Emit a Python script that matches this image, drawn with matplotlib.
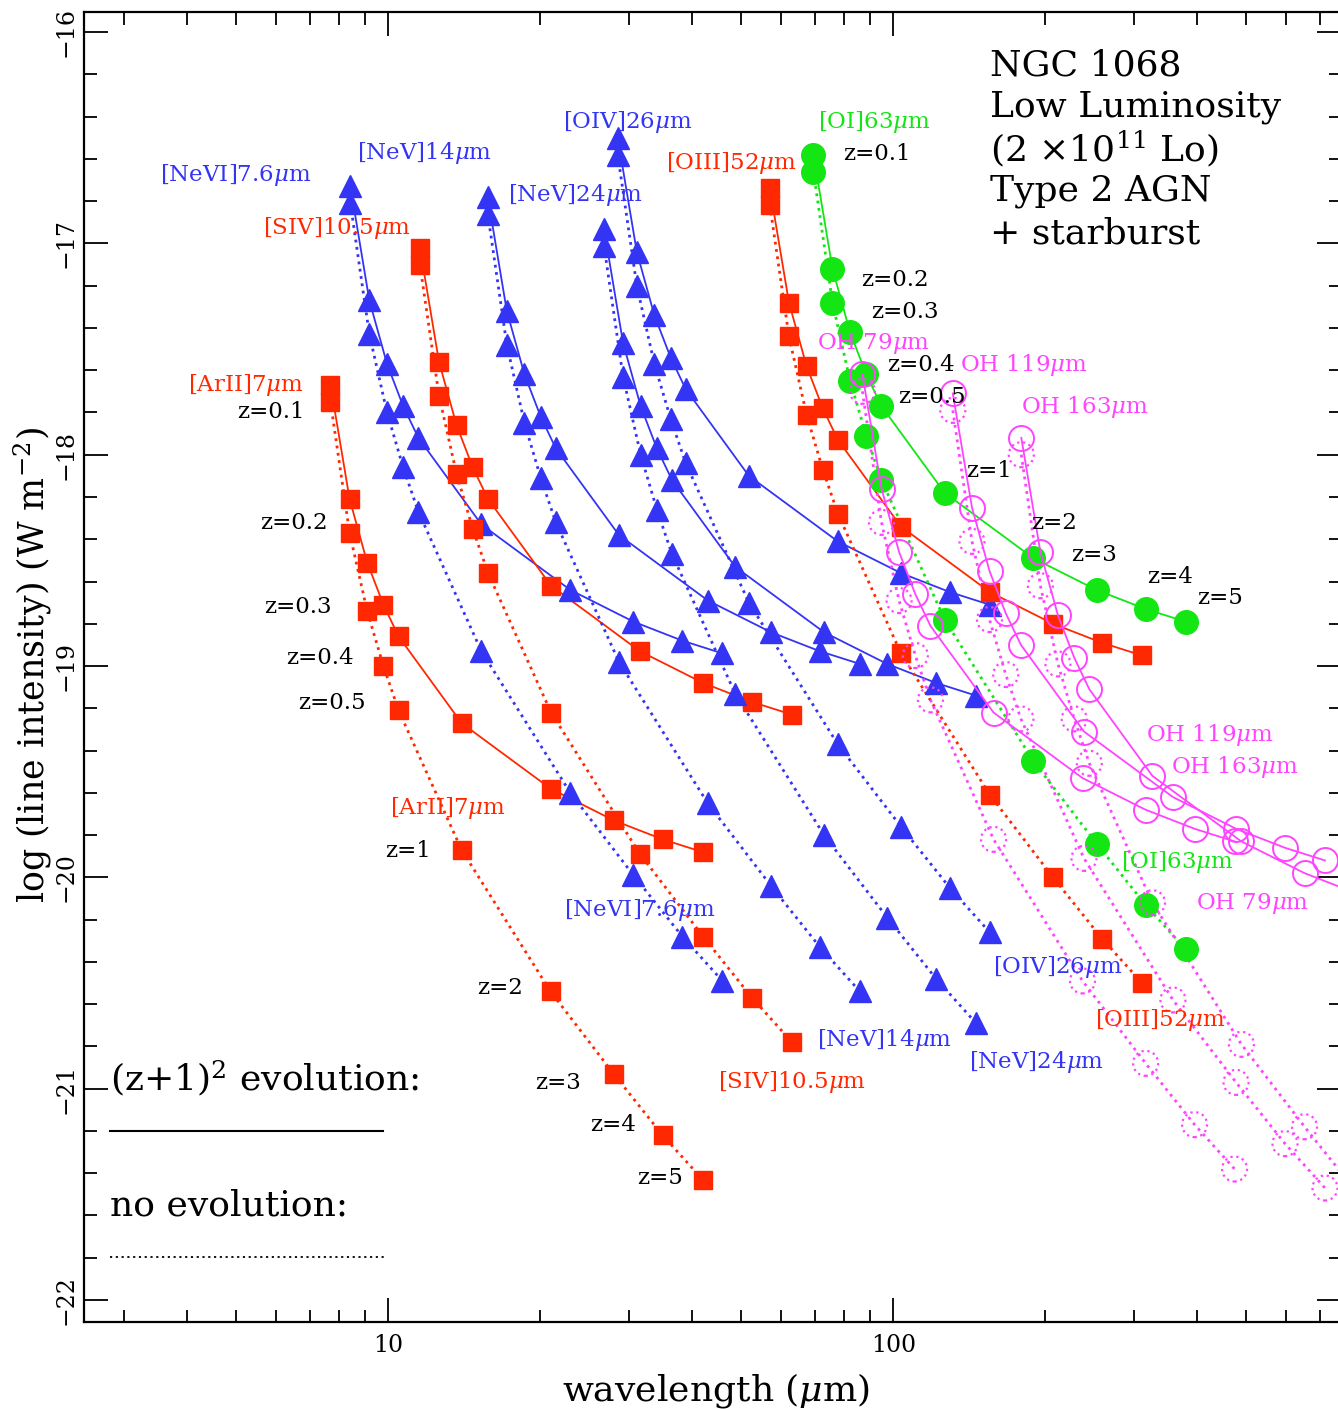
import matplotlib
matplotlib.use('Agg')
import matplotlib.pyplot as plt
from matplotlib.lines import Line2D
from matplotlib.ticker import FixedLocator, FixedFormatter, NullFormatter

W, H = 1338, 1409
plt.rcParams['font.family'] = ['DejaVu Serif']
plt.rcParams['mathtext.fontset'] = 'dejavuserif'

# ---------------- data ----------------
REDSHIFTS = [0.1, 0.2, 0.3, 0.4, 0.5, 1, 2, 3, 4, 5]

# observed wavelengths (micron) at the redshifts above
ARII_WL  = [7.69, 8.39, 9.09, 9.79, 10.49, 13.98, 20.97, 27.96, 34.95, 41.94]
NEVI_WL  = [8.42, 9.18, 9.95, 10.71, 11.48, 15.30, 22.95, 30.60, 38.25, 45.90]
SIV_WL   = [11.56, 12.61, 13.66, 14.71, 15.77, 21.02, 31.53, 42.04, 52.55, 63.06]
NEV14_WL = [15.75, 17.18, 18.62, 20.05, 21.48, 28.64, 42.96, 57.28, 71.60, 85.92]
NEV24_WL = [26.75, 29.18, 31.62, 34.05, 36.48, 48.64, 72.96, 97.28, 121.6, 145.9]
OIV_WL   = [28.48, 31.07, 33.66, 36.25, 38.84, 51.78, 77.67, 103.6, 129.5, 155.3]
OIII_WL  = [56.99, 62.17, 67.35, 72.53, 77.72, 103.6, 155.4, 207.2, 259.1, 310.9]
OI_WL    = [69.50, 75.82, 82.13, 88.45, 94.77, 126.4, 189.5, 252.7, 315.9, 379.1]
OH79_WL  = [86.9, 94.8, 102.7, 110.6, 118.5, 158.0, 237.0, 316.0, 395.0, 474.0]
OH119_WL = [131.2, 143.2, 155.1, 167.0, 179.0, 238.6, 357.9, 477.2, 596.5, 715.8]
OH163_WL = [179.3, 195.6, 211.9, 228.2, 244.5, 326.0, 489.0, 652.0, 815.0, 978.0]

# log line intensity (W m^-2), no evolution (dotted)
ARII_NOEV  = [-17.75, -18.37, -18.74, -19.00, -19.21, -19.87, -20.54, -20.93, -21.22, -21.43]
NEVI_NOEV  = [-16.81, -17.43, -17.80, -18.06, -18.27, -18.93, -19.60, -19.99, -20.28, -20.49]
SIV_NOEV   = [-17.10, -17.72, -18.09, -18.35, -18.56, -19.22, -19.89, -20.28, -20.57, -20.78]
NEV14_NOEV = [-16.86, -17.48, -17.85, -18.11, -18.32, -18.98, -19.65, -20.04, -20.33, -20.54]
NEV24_NOEV = [-17.01, -17.63, -18.00, -18.26, -18.47, -19.13, -19.80, -20.19, -20.48, -20.69]
OIV_NOEV   = [-16.58, -17.20, -17.57, -17.83, -18.04, -18.70, -19.37, -19.76, -20.05, -20.26]
OIII_NOEV  = [-16.82, -17.44, -17.81, -18.07, -18.28, -18.94, -19.61, -20.00, -20.29, -20.50]
OI_NOEV    = [-16.66, -17.28, -17.65, -17.91, -18.12, -18.78, -19.45, -19.84, -20.13, -20.34]
OH79_NOEV  = [-17.70, -18.32, -18.69, -18.95, -19.16, -19.82, -20.49, -20.88, -21.17, -21.38]
OH119_NOEV = [-17.79, -18.41, -18.78, -19.04, -19.25, -19.91, -20.58, -20.97, -21.26, -21.47]
OH163_NOEV = [-18.00, -18.62, -18.99, -19.25, -19.46, -20.12, -20.79, -21.18, -21.47, -21.68]

# log line intensity (W m^-2), (z+1)^2 evolution (solid)
ARII_EV  = [-17.67, -18.21, -18.51, -18.71, -18.86, -19.27, -19.58, -19.73, -19.82, -19.88]
NEVI_EV  = [-16.73, -17.27, -17.57, -17.77, -17.92, -18.33, -18.64, -18.79, -18.88, -18.94]
SIV_EV   = [-17.02, -17.56, -17.86, -18.06, -18.21, -18.62, -18.93, -19.08, -19.17, -19.23]
NEV14_EV = [-16.78, -17.32, -17.62, -17.82, -17.97, -18.38, -18.69, -18.84, -18.93, -18.99]
NEV24_EV = [-16.93, -17.47, -17.77, -17.97, -18.12, -18.53, -18.84, -18.99, -19.08, -19.14]
OIV_EV   = [-16.50, -17.04, -17.34, -17.54, -17.69, -18.10, -18.41, -18.56, -18.65, -18.71]
OIII_EV  = [-16.74, -17.28, -17.58, -17.78, -17.93, -18.34, -18.65, -18.80, -18.89, -18.95]
OI_EV    = [-16.58, -17.12, -17.42, -17.62, -17.77, -18.18, -18.49, -18.64, -18.73, -18.79]
OH79_EV  = [-17.62, -18.16, -18.46, -18.66, -18.81, -19.22, -19.53, -19.68, -19.77, -19.83]
OH119_EV = [-17.71, -18.25, -18.55, -18.75, -18.90, -19.31, -19.62, -19.77, -19.86, -19.92]
OH163_EV = [-17.92, -18.46, -18.76, -18.96, -19.11, -19.52, -19.83, -19.98, -20.07, -20.13]

X_MAJOR = [10, 100]
X_MAJOR_LABELS = ['10', '100']
Y_MAJOR = [-16, -17, -18, -19, -20, -21, -22]
Y_MAJOR_LABELS = ['\u221216', '\u221217', '\u221218', '\u221219', '\u221220', '\u221221', '\u221222']

# ---------------- styles ----------------
RED = '#ff2800'
BLUE = '#3434f4'
GREEN = '#14e614'
MAG = '#ff44ff'

sq = dict(color=RED, marker='s', ms=13)
tri = dict(color=BLUE, marker='^', ms=15.5)
dot_g = dict(color=GREEN, marker='o', ms=17)

filled_lines = [
    (ARII_WL, ARII_NOEV, ARII_EV, sq),
    (NEVI_WL, NEVI_NOEV, NEVI_EV, tri),
    (SIV_WL, SIV_NOEV, SIV_EV, sq),
    (NEV14_WL, NEV14_NOEV, NEV14_EV, tri),
    (NEV24_WL, NEV24_NOEV, NEV24_EV, tri),
    (OIV_WL, OIV_NOEV, OIV_EV, tri),
    (OIII_WL, OIII_NOEV, OIII_EV, sq),
    (OI_WL, OI_NOEV, OI_EV, dot_g),
]
open_lines = [
    (OH79_WL, OH79_NOEV, OH79_EV),
    (OH119_WL, OH119_NOEV, OH119_EV),
    (OH163_WL, OH163_NOEV, OH163_EV),
]

fig = plt.figure(figsize=(W / 100, H / 100), dpi=100)
ax = fig.add_axes([84 / W, 1 - 1322 / H, (1341 - 84) / W, (1322 - 12) / H])
ax.set_xscale('log')
ax.set_xlim(2.5, 770)
ax.set_ylim(-22.104, -15.905)

for wl, noev, ev, st in filled_lines:
    ax.plot(wl, noev, linestyle=':', lw=2.0, color=st['color'], zorder=2)
    ax.plot(wl, ev, linestyle='-', lw=1.3, color=st['color'], zorder=2)
    ax.plot(wl, noev, linestyle='none', marker=st['marker'], ms=st['ms'],
            color=st['color'], mec=st['color'], zorder=3)
    ax.plot(wl, ev, linestyle='none', marker=st['marker'], ms=st['ms'],
            color=st['color'], mec=st['color'], zorder=3)

for wl, noev, ev in open_lines:
    ax.plot(wl, noev, linestyle=':', lw=2.0, color=MAG, zorder=2)
    ax.scatter(wl, noev, s=18 ** 2, facecolors='none', edgecolors=MAG,
               linewidths=1.6, linestyles=':', zorder=3)
    ax.plot(wl, ev, linestyle='-', lw=1.3, color=MAG, marker='o', ms=18,
            mfc='none', mec=MAG, mew=1.4, zorder=3)

# ---------------- axes & ticks ----------------
ax.xaxis.set_major_locator(FixedLocator(X_MAJOR))
ax.xaxis.set_major_formatter(FixedFormatter(X_MAJOR_LABELS))
ax.xaxis.set_minor_locator(FixedLocator([3, 4, 5, 6, 7, 8, 9, 20, 30, 40, 50, 60, 70,
                                         80, 90, 200, 300, 400, 500, 600, 700]))
ax.xaxis.set_minor_formatter(NullFormatter())
ax.yaxis.set_major_locator(FixedLocator(Y_MAJOR))
ax.yaxis.set_major_formatter(FixedFormatter(Y_MAJOR_LABELS))
ax.yaxis.set_minor_locator(FixedLocator([-22 + 0.2 * i for i in range(31)]))
ax.tick_params(which='both', direction='in', top=True, right=True, width=1.3,
               labelsize=17, colors='black')
ax.tick_params(which='major', length=17)
ax.tick_params(which='minor', length=9)
ax.tick_params(axis='x', pad=9)
ax.tick_params(axis='y', pad=5)
for lab in ax.get_yticklabels():
    lab.set_rotation(90)
    lab.set_va('center')
for sp in ax.spines.values():
    sp.set_linewidth(1.6)


def ptext(px, py, s, **kw):
    kw.setdefault('ha', 'center')
    kw.setdefault('va', 'center')
    fig.text(px / W, 1 - py / H, s, **kw)


LFS = 16.5
um = r'$\mu$m'
# colored line labels
for px, py, s, c in [
    (236, 175, '[NeVI]7.6' + um, BLUE), (425, 153, '[NeV]14' + um, BLUE),
    (628, 122, '[OIV]26' + um, BLUE), (576, 195, '[NeV]24' + um, BLUE),
    (337, 228, '[SIV]10.5' + um, RED), (731, 163, '[OIII]52' + um, RED),
    (246, 385, '[ArII]7' + um, RED), (874, 122, '[OI]63' + um, GREEN),
    (874, 343, 'OH 79' + um, MAG), (1024, 365, 'OH 119' + um, MAG),
    (1085, 407, 'OH 163' + um, MAG),
    (448, 808, '[ArII]7' + um, RED), (640, 910, '[NeVI]7.6' + um, BLUE),
    (1058, 967, '[OIV]26' + um, BLUE), (885, 1040, '[NeV]14' + um, BLUE),
    (1037, 1062, '[NeV]24' + um, BLUE), (792, 1082, '[SIV]10.5' + um, RED),
    (1160, 1020, '[OIII]52' + um, RED), (1177, 862, '[OI]63' + um, GREEN),
    (1210, 735, 'OH 119' + um, MAG), (1235, 767, 'OH 163' + um, MAG),
    (1253, 903, 'OH 79' + um, MAG),
]:
    ptext(px, py, s, color=c, fontsize=LFS)

# redshift labels
for px, py, s in [
    (271, 412, 'z=0.1'), (294, 523, 'z=0.2'), (298, 607, 'z=0.3'),
    (320, 658, 'z=0.4'), (332, 703, 'z=0.5'), (408, 851, 'z=1'),
    (500, 988, 'z=2'), (558, 1083, 'z=3'), (613, 1125, 'z=4'), (660, 1178, 'z=5'),
    (877, 154, 'z=0.1'), (895, 280, 'z=0.2'), (905, 312, 'z=0.3'),
    (921, 365, 'z=0.4'), (932, 397, 'z=0.5'), (989, 471, 'z=1'),
    (1054, 523, 'z=2'), (1094, 555, 'z=3'), (1170, 577, 'z=4'), (1220, 598, 'z=5'),
]:
    ptext(px, py, s, color='black', fontsize=LFS)

# info block
BFS = 26
for py, s in [(65, 'NGC 1068'), (107, 'Low Luminosity'),
              (149, r'(2 $\times$10$^{11}$ Lo)'), (191, 'Type 2 AGN'),
              (233, '+ starburst')]:
    ptext(990, py, s, ha='left', fontsize=BFS)

# line-style key
ptext(110, 1078, r'(z+1)$^2$ evolution:', ha='left', fontsize=BFS)
ptext(110, 1205, 'no evolution:', ha='left', fontsize=BFS)
fig.add_artist(Line2D([110 / W, 383 / W], [1 - 1131 / H] * 2, color='black', lw=1.5))
fig.add_artist(Line2D([110 / W, 385 / W], [1 - 1257 / H] * 2, color='black', lw=1.3,
                      linestyle=(0, (1.2, 2.0))))

# axis labels
ptext(716, 1390, r'wavelength ($\mu$m)', fontsize=26)
ptext(33, 665, r'log (line intensity) (W m$^{-2}$)', fontsize=25, rotation=90)

fig.savefig('out.png', dpi=100)
